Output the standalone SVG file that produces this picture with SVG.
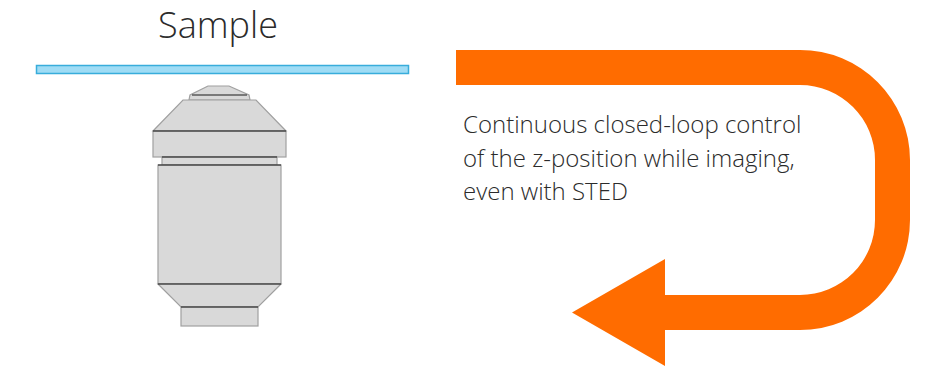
<svg xmlns="http://www.w3.org/2000/svg" width="944" height="370" viewBox="0 0 944 370">
  <style>
    .lbl { font-family: "Open Sans", "Liberation Sans", sans-serif; font-weight: 300; fill: #2b2b2b; }
    .body { fill: #d9d9d9; stroke: #a0a0a0; stroke-width: 1.2; }
    .edge { stroke: #1a1a1a; stroke-width: 1.1; fill: none; }
  </style>
  <rect width="944" height="370" fill="#ffffff"/>

  <!-- sample slide -->
  <g id="sample">
    <text class="lbl" x="218" y="38" font-size="36" text-anchor="middle">Sample</text>
    <rect x="36.5" y="65.5" width="372" height="8" fill="#9fdcf5" stroke="#38addb" stroke-width="1.5"/>
  </g>

  <!-- objective lens -->
  <g id="objective">
    <!-- front cap -->
    <polygon class="body" points="208,86 229,86 249,95 250,100 189,100 190,95"/>
    <line class="edge" x1="192" y1="95" x2="247" y2="95"/>
    <!-- cone -->
    <polygon class="body" points="183,100 256,100 286,131 153,131"/>
    <!-- collar -->
    <rect class="body" x="153" y="131" width="133" height="26"/>
    <line class="edge" x1="153" y1="131" x2="286" y2="131"/>
    <rect class="body" x="162" y="157" width="115" height="8"/>
    <line class="edge" x1="162" y1="157" x2="277" y2="157"/>
    <!-- barrel -->
    <rect class="body" x="158" y="165" width="123" height="119"/>
    <line class="edge" x1="158" y1="165" x2="281" y2="165"/>
    <!-- rear taper and thread -->
    <polygon class="body" points="158,284 281,284 258,307 181,307"/>
    <line class="edge" x1="158" y1="284" x2="281" y2="284"/>
    <rect class="body" x="181" y="307" width="77" height="19"/>
    <line class="edge" x1="181" y1="307" x2="258" y2="307"/>
  </g>

  <!-- feedback loop arrow -->
  <g id="connectors">
    <path id="loop-arrow" fill="#ff6c00"
          d="M456,50 H800 A110,110 0 0 1 910,160 V220 A110,110 0 0 1 800,330 H665 V366 L572,312.5 L665,259 V295 H800 A75,75 0 0 0 875,220 V160 A75,75 0 0 0 800,85 H456 Z"/>
  </g>

  <g id="caption">
    <text class="lbl" font-size="24">
      <tspan x="463" y="133">Continuous closed-loop control</tspan>
      <tspan x="463" y="166.5">of the z-position while imaging,</tspan>
      <tspan x="463" y="200">even with STED</tspan>
    </text>
  </g>
</svg>
